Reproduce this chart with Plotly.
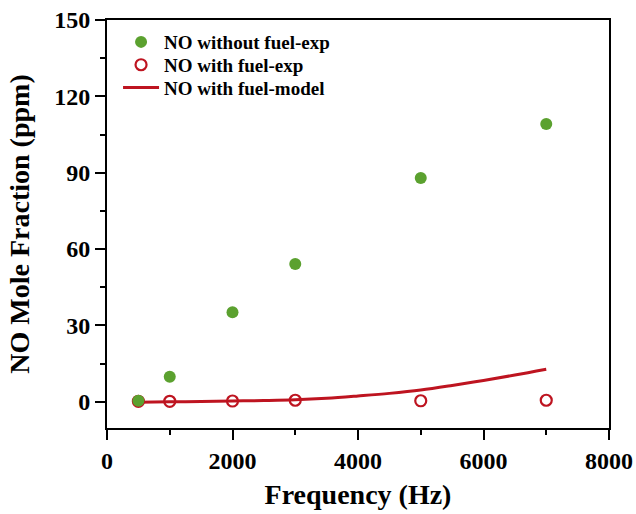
import plotly.graph_objects as go

# Data
freq_exp = [500, 1000, 2000, 3000, 5000, 7000]
no_without_fuel = [0.4, 9.8, 35.2, 54.1, 87.9, 109.1]
no_with_fuel = [0.2, 0.2, 0.3, 0.6, 0.4, 0.6]

freq_model = [500, 1000, 1500, 2000, 2500, 3000, 3500, 4000, 4500, 5000, 5500, 6000, 6500, 7000]
no_model = [-0.2, 0.0, 0.1, 0.3, 0.5, 0.8, 1.4, 2.3, 3.3, 4.6, 6.4, 8.4, 10.5, 12.8]

GREEN = "#5BA12F"
RED = "#BE1420"
FONT = "Liberation Serif"

fig = go.Figure()
fig.add_trace(go.Scatter(
    x=freq_model, y=no_model, mode="lines", name="NO with fuel-model",
    line=dict(color=RED, width=3, shape="spline"), legend="legend3"))
fig.add_trace(go.Scatter(
    x=freq_exp, y=no_with_fuel, mode="markers", name="NO with fuel-exp",
    marker=dict(symbol="circle-open", size=11, color=RED, line=dict(width=2.2, color=RED)),
    legend="legend2"))
fig.add_trace(go.Scatter(
    x=freq_exp, y=no_without_fuel, mode="markers", name="NO without fuel-exp",
    marker=dict(symbol="circle", size=12, color=GREEN), legend="legend"))

axis_common = dict(
    showline=True, linecolor="black", linewidth=2, mirror=True,
    ticks="outside", ticklen=10, tickwidth=2, tickcolor="black",
    showgrid=False, zeroline=False,
    tickfont=dict(family=FONT, size=24, color="black", weight="bold"),
)

fig.update_xaxes(
    range=[0, 8000], tick0=0, dtick=2000,
    minor=dict(ticks="outside", ticklen=5, tickwidth=2, tickcolor="black", dtick=1000, showgrid=False),
    title=dict(text="Frequency (Hz)", font=dict(family=FONT, size=28, color="black", weight="bold"), standoff=12),
    **axis_common)
fig.update_yaxes(
    range=[-10.3, 150], tick0=0, dtick=30,
    minor=dict(ticks="outside", ticklen=5, tickwidth=2, tickcolor="black", dtick=15, tick0=0, showgrid=False),
    title=dict(text="NO Mole Fraction (ppm)", font=dict(family=FONT, size=28, color="black", weight="bold"), standoff=16),
    **axis_common)

legend_common = dict(
    xanchor="left", yanchor="middle", bgcolor="rgba(0,0,0,0)", itemwidth=36,
    font=dict(family=FONT, size=19, color="black", weight="bold"))

fig.update_layout(
    width=636, height=514,
    margin=dict(l=107, r=27, t=20, b=86, autoexpand=False),
    plot_bgcolor="white", paper_bgcolor="white",
    showlegend=True,
    legend=dict(x=0.022, y=0.946, **legend_common),
    legend2=dict(x=0.022, y=0.890, **legend_common),
    legend3=dict(x=0.022, y=0.834, **legend_common),
)

fig.write_html("out.html")
